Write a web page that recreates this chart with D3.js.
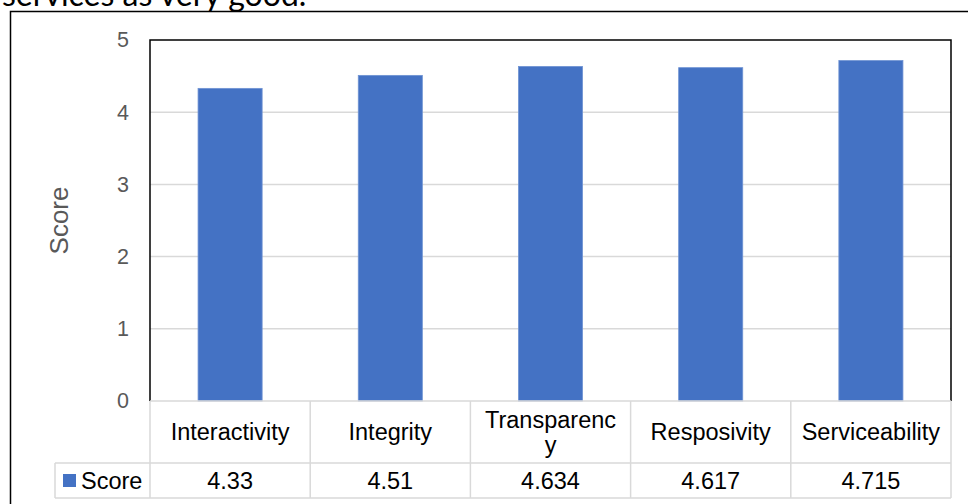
<!DOCTYPE html>
<html>
<head>
<meta charset="utf-8">
<script src="https://cdn.jsdelivr.net/npm/d3@7"></script>
<style>
  body { margin: 0; background: #fff; }
  svg { display: block; font-family: "Liberation Sans", Arial, sans-serif; }
</style>
</head>
<body>
<svg id="chart"></svg>
<script>
// chart data
const categories = ['Interactivity', 'Integrity', 'Transparency', 'Resposivity', 'Serviceability'];
const scores = [4.33, 4.51, 4.634, 4.617, 4.715];
const yTicks = [0, 1, 2, 3, 4, 5];
const seriesName = 'Score';

const W = 968, H = 504;
const margin = { top: 40, right: 17, left: 150 };
const plotBottom = 401;
const headRow = 62, dataRow = 35;
const fs = 23.5;

const svg = d3.select('#chart').attr('width', W).attr('height', H);

// cut-off caption from the surrounding document
svg.append('text')
    .attr('x', 2).attr('y', 6)
    .attr('font-family', 'Lato, "Open Sans", sans-serif')
    .attr('font-size', 32)
    .attr('fill', '#000')
    .text('services as very good.');

// outer frame
svg.append('rect')
    .attr('x', 10.5).attr('y', 11.5)
    .attr('width', W).attr('height', H)
    .attr('fill', 'none').attr('stroke', '#000').attr('stroke-width', 1.5);

const x = d3.scaleBand()
    .domain(categories)
    .range([margin.left, W - margin.right]);

const y = d3.scaleLinear()
    .domain([0, 5])
    .range([plotBottom, margin.top]);

// gridlines
svg.append('g')
    .selectAll('line')
    .data(yTicks.filter(d => d > 0 && d < 5))
    .enter()
    .append('line')
    .attr('x1', margin.left).attr('x2', W - margin.right)
    .attr('y1', d => y(d)).attr('y2', d => y(d))
    .attr('stroke', '#d9d9d9').attr('stroke-width', 1.5);

// y axis labels
const yAxis = svg.append('g')
    .attr('transform', `translate(${margin.left},0)`)
    .call(d3.axisLeft(y).tickValues(yTicks).tickSize(0).tickPadding(21).tickFormat(d3.format('d')));
yAxis.select('.domain').remove();
yAxis.selectAll('text')
    .attr('font-size', 21.5)
    .attr('fill', '#595959')
    .attr('font-family', '"Liberation Sans", Arial, sans-serif');

svg.append('text')
    .attr('transform', `translate(68,${(margin.top + plotBottom) / 2}) rotate(-90)`)
    .attr('text-anchor', 'middle')
    .attr('font-size', 26)
    .attr('fill', '#595959')
    .text('Score');

// bars
svg.selectAll('.bar')
    .data(categories)
    .enter()
    .append('rect')
    .attr('class', 'bar')
    .attr('x', d => x(d) + x.bandwidth() * 0.3)
    .attr('y', (d, i) => y(scores[i]))
    .attr('width', x.bandwidth() * 0.4)
    .attr('height', (d, i) => plotBottom - y(scores[i]))
    .attr('fill', '#4472c4')
    .attr('stroke', '#6f93d3')
    .attr('stroke-width', 0.8);

// plot border (top, left, right)
svg.append('path')
    .attr('d', `M${margin.left},${plotBottom}V${margin.top}H${W - margin.right}V${plotBottom}`)
    .attr('fill', 'none').attr('stroke', '#000').attr('stroke-width', 1.5);

// data table
const grid = svg.append('g').attr('stroke', '#d9d9d9').attr('stroke-width', 1.5).attr('fill', 'none');
const tTop = plotBottom, tMid = plotBottom + headRow, tBot = tMid + dataRow;
const legendLeft = 55;
grid.append('line').attr('x1', margin.left).attr('x2', W - margin.right).attr('y1', tTop).attr('y2', tTop);
grid.append('line').attr('x1', legendLeft).attr('x2', W - margin.right).attr('y1', tMid).attr('y2', tMid);
grid.append('line').attr('x1', legendLeft).attr('x2', W - margin.right).attr('y1', tBot).attr('y2', tBot);
grid.append('line').attr('x1', legendLeft).attr('x2', legendLeft).attr('y1', tMid).attr('y2', tBot);
grid.selectAll('.col')
    .data(categories.concat(['end']))
    .enter()
    .append('line')
    .attr('x1', d => d === 'end' ? W - margin.right : x(d))
    .attr('x2', d => d === 'end' ? W - margin.right : x(d))
    .attr('y1', tTop).attr('y2', tBot);

// category labels (wrapped like the original)
const headLines = { 'Transparency': ['Transparenc', 'y'] };
categories.forEach(c => {
    const lines = headLines[c] || [c];
    const cx = x(c) + x.bandwidth() / 2;
    const lh = 25;
    const y0 = tTop + headRow / 2 - (lines.length - 1) * lh / 2 + 8;
    lines.forEach((t, k) => {
        svg.append('text')
            .attr('x', cx).attr('y', y0 + k * lh)
            .attr('text-anchor', 'middle')
            .attr('font-size', fs)
            .attr('fill', '#000')
            .text(t);
    });
});

// values row
svg.selectAll('.val')
    .data(categories)
    .enter()
    .append('text')
    .attr('class', 'val')
    .attr('x', d => x(d) + x.bandwidth() / 2)
    .attr('y', tMid + dataRow / 2 + 8)
    .attr('text-anchor', 'middle')
    .attr('font-size', fs)
    .attr('fill', '#000')
    .text((d, i) => scores[i]);

// legend key
svg.append('rect')
    .attr('x', 63).attr('y', 474).attr('width', 13).attr('height', 13)
    .attr('fill', '#4472c4');
svg.append('text')
    .attr('x', 81).attr('y', tMid + dataRow / 2 + 8)
    .attr('font-size', fs)
    .attr('fill', '#000')
    .text(seriesName);
</script>
</body>
</html>
